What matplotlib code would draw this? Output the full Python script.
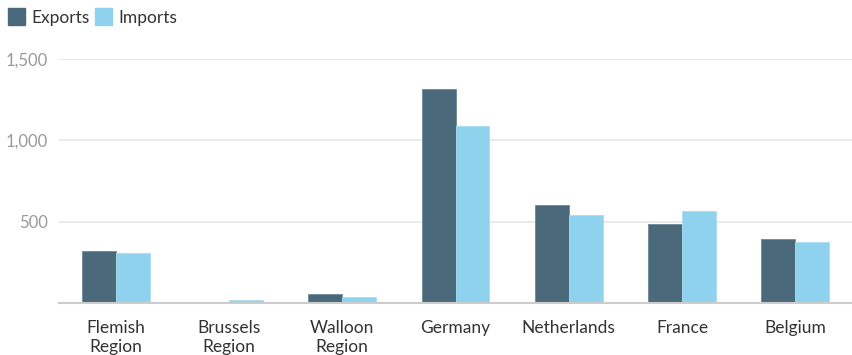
import matplotlib
matplotlib.use("Agg")
import matplotlib.pyplot as plt
import numpy as np
from matplotlib.patches import Rectangle

plt.rcParams['font.family'] = ['Lato', 'DejaVu Sans']

categories = ['Flemish\nRegion', 'Brussels\nRegion', 'Walloon\nRegion', 'Germany',
              'Netherlands', 'France', 'Belgium']
exports = [321, 3, 53, 1317, 605, 487, 391]
imports = [307, 17, 37, 1086, 538, 563, 374]
yticks = [500, 1000, 1500]
ytick_labels = ['500', '1,000', '1,500']

c_exp = '#4a6a7b'
c_imp = '#8fd2ed'

W, H = 852, 355
fig = plt.figure(figsize=(W / 100, H / 100), dpi=100)
ax = fig.add_axes([59 / W, 52 / H, (852 - 59) / W, (303 - 59) / H])

x = np.arange(len(categories))
bw = 0.3
ax.bar(x - bw / 2, exports, bw, color=c_exp, edgecolor='#6f8896', linewidth=0.6, zorder=3)
ax.bar(x + bw / 2, imports, bw, color=c_imp, edgecolor='#a8def2', linewidth=0.6, zorder=3)

ax.set_xlim(-0.5, len(categories) - 0.5)
ax.set_ylim(0, 1500)
ax.set_yticks(yticks)
ax.set_yticklabels(ytick_labels)
ax.set_xticks(x)
ax.set_xticklabels(categories, fontsize=12.5, color='#333333', linespacing=1.22)
ax.tick_params(axis='x', length=0, pad=12)
ax.tick_params(axis='y', length=0, pad=8, labelsize=12, labelcolor='#999999')

ax.yaxis.grid(True, color='#e6e6e6', linewidth=1.2, zorder=0)
for s in ['top', 'right', 'left']:
    ax.spines[s].set_visible(False)
ax.spines['bottom'].set_color('#cccccc')
ax.spines['bottom'].set_linewidth(1.5)
ax.spines['bottom'].set_zorder(4)

# legend
fig.patches.append(Rectangle((8 / W, 1 - 25 / H), 17 / W, 17 / H, color=c_exp,
                             transform=fig.transFigure, figure=fig))
fig.text(31 / W, 1 - 18 / H, 'Exports', fontsize=12.5, color='#333333', va='center')
fig.patches.append(Rectangle((95 / W, 1 - 25 / H), 17 / W, 17 / H, color=c_imp,
                             transform=fig.transFigure, figure=fig))
fig.text(118 / W, 1 - 18 / H, 'Imports', fontsize=12.5, color='#333333', va='center')

fig.savefig('out.png', dpi=100)
